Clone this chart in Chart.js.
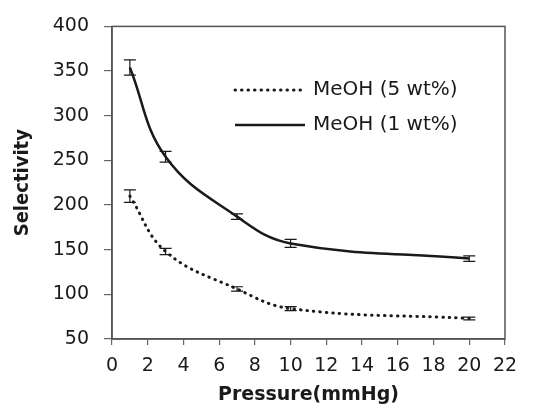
<!DOCTYPE html>
<html>
<head>
<meta charset="utf-8">
<script src="https://cdn.jsdelivr.net/npm/chart.js@4"></script>
<style>
  html, body { margin: 0; background: #fff; }
</style>
</head>
<body>
<canvas id="chart" width="535" height="406"></canvas>
<script>
// values
const pressure = [1, 3, 7, 10, 20];
const meoh5 = [210, 148, 106, 84, 73];
const meoh5Err = [7, 3.5, 2.5, 2.2, 1.5];
const meoh1 = [354, 254, 187, 157, 140];
const meoh1Err = [8.5, 6, 3, 4.5, 3];
const labels = ['MeOH (5 wt%)', 'MeOH (1 wt%)'];

const ink = '#1a1a1a';
const tickFont = { family: 'DejaVu Sans', size: 19 };

const toPoints = (ys) => pressure.map((x, i) => ({ x: x, y: ys[i] }));

// error bars + frame + legend drawn on top
const extras = {
    id: 'extras',
    afterDatasetsDraw(chart) {
        const { ctx, chartArea: a, scales: { x, y } } = chart;
        const errs = [meoh5Err, meoh1Err];
        ctx.save();
        ctx.strokeStyle = ink;
        ctx.lineWidth = 1.2;
        chart.data.datasets.forEach((ds, i) => {
            ds.data.forEach((p, j) => {
                const px = x.getPixelForValue(p.x);
                const top = y.getPixelForValue(p.y + errs[i][j]);
                const bot = y.getPixelForValue(p.y - errs[i][j]);
                ctx.beginPath();
                ctx.moveTo(px, top); ctx.lineTo(px, bot);
                ctx.moveTo(px - 6, top); ctx.lineTo(px + 6, top);
                ctx.moveTo(px - 6, bot); ctx.lineTo(px + 6, bot);
                ctx.stroke();
            });
        });

        // box around the plot
        ctx.strokeStyle = '#555';
        ctx.lineWidth = 1.5;
        ctx.strokeRect(a.left, a.top, a.right - a.left, a.bottom - a.top);

        // legend inside the plot
        const lx = 235, ly = [90, 125];
        chart.data.datasets.forEach((ds, i) => {
            ctx.beginPath();
            ctx.strokeStyle = ink;
            ctx.lineWidth = ds.borderWidth;
            ctx.lineCap = ds.borderCapStyle || 'butt';
            ctx.setLineDash(ds.borderDash || []);
            ctx.moveTo(lx, ly[i]); ctx.lineTo(lx + 70, ly[i]);
            ctx.stroke();
            ctx.setLineDash([]);
            ctx.fillStyle = ink;
            ctx.font = '20px "DejaVu Sans"';
            ctx.textBaseline = 'middle';
            ctx.fillText(ds.label, lx + 78, ly[i]);
        });
        ctx.restore();
    }
};

new Chart(document.getElementById('chart'), {
    type: 'line',
    data: {
        datasets: [{
            label: labels[0],
            data: toPoints(meoh5),
            borderColor: ink,
            borderWidth: 3,
            borderDash: [0.5, 6],
            borderCapStyle: 'round',
            pointRadius: 0,
            tension: 0.4,
            fill: false
        }, {
            label: labels[1],
            data: toPoints(meoh1),
            borderColor: ink,
            borderWidth: 2.5,
            pointRadius: 0,
            tension: 0.4,
            fill: false
        }]
    },
    options: {
        responsive: false,
        animation: false,
        devicePixelRatio: 1,
        layout: { padding: { left: 0, right: 30, top: 24, bottom: 0 } },
        plugins: { legend: { display: false }, tooltip: { enabled: false } },
        scales: {
            x: {
                type: 'linear',
                min: 0, max: 22,
                afterFit: (s) => { s.height = 67; },
                ticks: { stepSize: 2, color: ink, font: tickFont, padding: 10, maxRotation: 0, autoSkip: false },
                grid: { drawOnChartArea: false, tickLength: 6, color: '#666', lineWidth: 1.2 },
                border: { color: '#555', width: 1.5 },
                title: {
                    display: true, text: 'Pressure(mmHg)', color: ink,
                    font: { family: 'DejaVu Sans', size: 19, weight: 'bold' }, padding: { top: 10, bottom: 0 }
                }
            },
            y: {
                min: 50, max: 400,
                afterFit: (s) => { s.width = 112; },
                ticks: { stepSize: 50, color: ink, font: tickFont, padding: 15 },
                grid: { drawOnChartArea: false, tickLength: 8, color: '#666', lineWidth: 1.2 },
                border: { color: '#555', width: 1.5 },
                title: {
                    display: true, text: 'Selectivity', color: ink,
                    font: { family: "'Liberation Sans Narrow', 'DejaVu Sans Condensed'", size: 20, weight: 'bold' },
                    padding: { top: 11, bottom: 0 }
                }
            }
        }
    },
    plugins: [extras]
});
</script>
</body>
</html>
